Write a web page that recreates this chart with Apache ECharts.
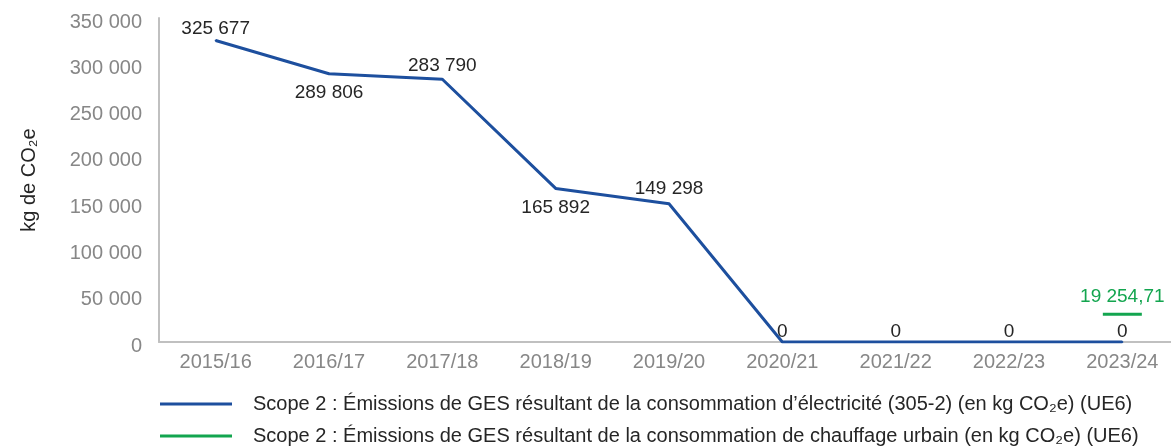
<!DOCTYPE html>
<html>
<head>
<meta charset="utf-8">
<script src="https://cdn.jsdelivr.net/npm/echarts@6.0.0/dist/echarts.min.js"></script>
<style>
  html, body { margin: 0; padding: 0; background: #fff; }
  #chart { width: 1171px; height: 448px; }
</style>
</head>
<body>
<div id="chart"></div>
<script>
// années
const years = ['2015/16', '2016/17', '2017/18', '2018/19', '2019/20', '2020/21', '2021/22', '2022/23', '2023/24'];
// Scope 2 électricité (kg CO2e)
const electricite = [325677, 289806, 283790, 165892, 149298, 0, 0, 0, 0];
// Scope 2 chauffage urbain (kg CO2e) - seulement 2023/24
const chauffage = [null, null, null, null, null, null, null, null, 19254.71];

// placement des étiquettes (style)
const labelPos = ['top', 'bottom', 'top', 'bottom', 'top', 'top', 'top', 'top', 'top'];
const labelDist = [1, 9, 3, 9, 5, 0, 0, 0, 0];

const nomElec = 'Scope 2 : Émissions de GES résultant de la consommation d’électricité (305-2) (en kg CO₂e) (UE6)';
const nomChauf = 'Scope 2 : Émissions de GES résultant de la consommation de chauffage urbain (en kg CO₂e) (UE6)';

function fmt(v) {
    const parts = String(v).split('.');
    const ent = parts[0].replace(/\B(?=(\d{3})+(?!\d))/g, ' ');
    return parts[1] ? ent + ',' + parts[1] : ent;
}

const FONT = '"Liberation Sans", Arial, sans-serif';
const chart = echarts.init(document.getElementById('chart'));

chart.setOption({
    animation: false,
    textStyle: { fontFamily: FONT },
    grid: { left: 159, width: 1020, top: 18, bottom: 106, containLabel: false, outerBoundsMode: 'none' },
    legend: {
        orient: 'vertical',
        left: 160, top: 394,
        padding: 0,
        icon: 'rect',
        itemWidth: 72, itemHeight: 3,
        itemGap: 12,
        textStyle: { fontSize: 20, color: '#262626', lineHeight: 20, padding: [0, 0, 0, 16] },
        data: [nomElec, nomChauf]
    },
    xAxis: {
        type: 'category',
        data: years,
        axisLine: { lineStyle: { color: '#c0c0c0', width: 2 } },
        axisTick: { show: false },
        axisLabel: { color: '#878787', fontSize: 20, margin: 10 }
    },
    yAxis: {
        type: 'value',
        min: 0, max: 350000, interval: 50000,
        name: 'kg de CO₂e',
        nameLocation: 'middle',
        nameRotate: 90,
        nameGap: 120,
        nameTextStyle: { color: '#262626', fontSize: 20 },
        axisLine: { show: true, lineStyle: { color: '#c0c0c0', width: 2 } },
        axisTick: { show: false },
        splitLine: { show: false },
        axisLabel: { color: '#878787', fontSize: 20, margin: 17, verticalAlign: 'top', lineHeight: 8, formatter: v => fmt(v) }
    },
    series: [
        {
            name: nomElec,
            type: 'line',
            data: electricite.map((v, i) => ({ value: v, label: { position: labelPos[i], distance: labelDist[i] } })),
            showSymbol: true,
            symbol: 'circle',
            symbolSize: 2,
            color: '#1d4f9e',
            itemStyle: { color: '#1d4f9e' },
            lineStyle: { width: 3, color: '#1d4f9e' },
            label: { show: true, fontSize: 19, color: '#262626', formatter: p => fmt(p.value) },
            z: 3
        },
        {
            name: nomChauf,
            type: 'line',
            data: chauffage,
            symbol: 'rect',
            symbolSize: [39, 3],
            symbolOffset: [0, -10],
            showSymbol: true,
            color: '#13a54f',
            itemStyle: { color: '#13a54f' },
            lineStyle: { width: 3, color: '#13a54f' },
            label: { show: true, position: 'top', distance: 6, fontSize: 19, color: '#13a54f', formatter: p => fmt(p.value) },
            z: 4
        }
    ]
});
</script>
</body>
</html>
